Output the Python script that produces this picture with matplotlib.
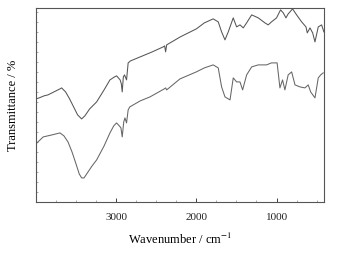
import numpy as np
import matplotlib
matplotlib.use('Agg')
from matplotlib import pyplot as plt
from matplotlib.ticker import MultipleLocator, FixedLocator, NullFormatter

# upper spectrum (wavenumber, transmittance in arbitrary units)
wn_top = [4000, 3960, 3900, 3850, 3800, 3750, 3700, 3680, 3630, 3580, 3530, 3480, 3430,
          3390, 3330, 3243, 3150, 3077, 3020, 2994, 2950, 2935, 2924, 2910, 2895,
          2870, 2850, 2820, 2700, 2550, 2413, 2395, 2383, 2370, 2200, 2000, 1900,
          1790, 1727, 1685, 1643, 1602, 1540, 1498, 1456, 1415, 1373, 1310, 1228,
          1145, 1104, 1063, 1000, 950, 916, 883, 855, 800, 750, 687, 633, 617,
          583, 550, 521, 480, 438, 410]
tr_top = [103, 104, 106, 107, 109, 111, 113, 114, 110, 103, 95, 87, 83,
          86, 93, 100, 112, 122, 125, 126, 122, 118, 110, 125, 127,
          122, 139, 141, 145, 150, 155, 156, 150, 157, 165, 173, 179,
          183, 180, 170, 162, 170, 184, 175, 177, 174, 179, 187, 184,
          179, 177, 180, 184, 192, 189, 184, 188, 193, 187, 180, 175, 169,
          174, 169, 160, 175, 177, 170]

# lower spectrum
wn_bot = [4000, 3909, 3800, 3700, 3650, 3600, 3550, 3500, 3460, 3430, 3400, 3350,
          3300, 3243, 3150, 3077, 3030, 2995, 2960, 2940, 2924, 2905, 2890, 2870,
          2850, 2830, 2700, 2578, 2400, 2383, 2370, 2204, 2000, 1900, 1790, 1727,
          1685, 1643, 1580, 1540, 1498, 1456, 1423, 1373, 1310, 1228, 1125, 1063,
          993, 958, 925, 896, 855, 812, 770, 708, 646, 605, 575, 521, 480, 450, 418]
tr_bot = [58, 65, 67, 69, 66, 60, 50, 38, 28, 24, 24, 30,
          36, 42, 56, 69, 76, 79, 76, 74, 65, 80, 84, 79,
          92, 95, 101, 105, 113, 114, 112, 123, 130, 134, 137, 134,
          115, 105, 102, 124, 120, 120, 112, 127, 135, 137, 137, 139,
          139, 114, 122, 112, 127, 130, 117, 115, 114, 117, 110, 104, 124, 127, 129]

plt.rcParams['font.family'] = ['Liberation Serif', 'DejaVu Serif']
plt.rcParams['mathtext.fontset'] = 'stix'

fig = plt.figure(figsize=(3.42, 2.54), dpi=100)
ax = fig.add_axes([0.105, 0.205, 0.842, 0.764])

ax.plot(wn_top, tr_top, color='#555555', lw=0.75)
ax.plot(wn_bot, tr_bot, color='#666666', lw=0.75)

ax.set_xlim(4000, 410)
ax.set_ylim(0, 194)
ax.xaxis.set_major_locator(FixedLocator([3000, 2000, 1000]))
ax.xaxis.set_minor_locator(MultipleLocator(250))
ax.yaxis.set_major_locator(MultipleLocator(10))
ax.yaxis.set_major_formatter(NullFormatter())
ax.tick_params(axis='x', which='major', direction='in', length=3, width=0.6,
               labelsize=8, pad=8, colors='#222222')
ax.tick_params(axis='x', which='minor', direction='in', length=1.5, width=0.5, color='#888888')
ax.tick_params(axis='y', which='major', direction='in', length=1.5, width=0.5, color='#888888')
for s in ax.spines.values():
    s.set_color('#555555')
    s.set_linewidth(0.8)

ax.set_xlabel('Wavenumber / cm$^{-1}$', fontsize=9, labelpad=7)
ax.set_ylabel('Transmittance / %', fontsize=9, labelpad=9)

fig.savefig('out.png', dpi=100)
